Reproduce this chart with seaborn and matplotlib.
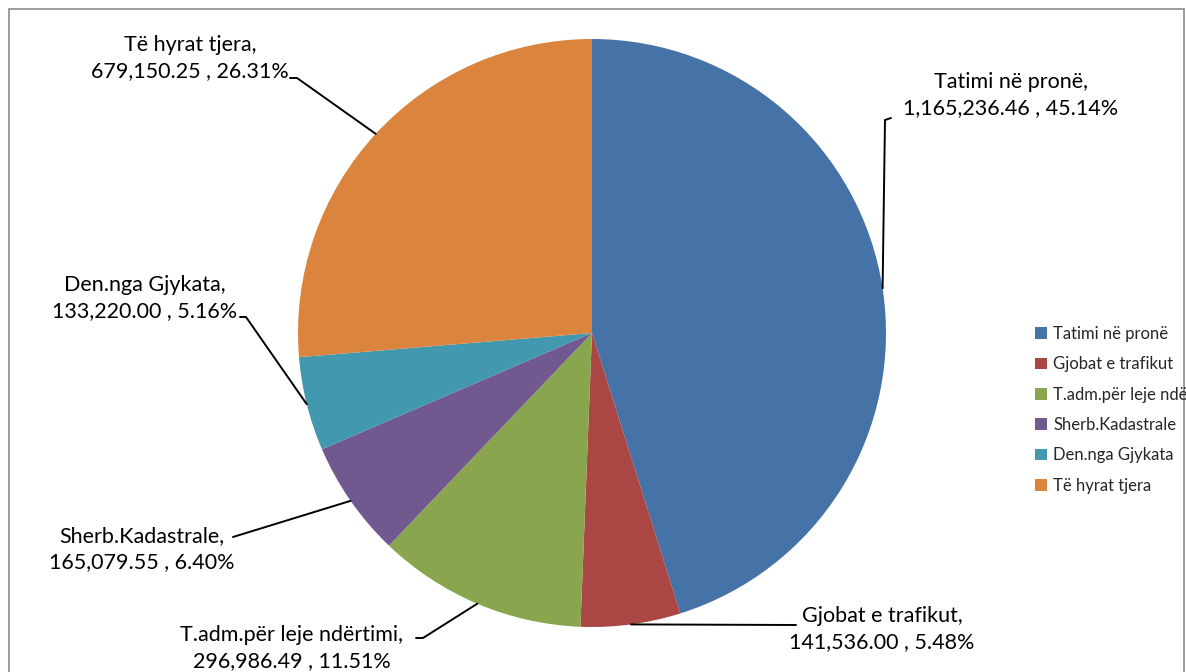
import numpy as np
import seaborn as sns
import matplotlib.pyplot as plt
from matplotlib.lines import Line2D
from matplotlib.patches import Rectangle, Patch

categories = ["Tatimi në pronë", "Gjobat e trafikut", "T.adm.për leje ndërtimi",
              "Sherb.Kadastrale", "Den.nga Gjykata", "Të hyrat tjera"]
legend_names = ["Tatimi në pronë", "Gjobat e trafikut", "T.adm.për leje ndërtimi",
                "Sherb.Kadastrale", "Den.nga Gjykata", "Të hyrat tjera"]
values = [1165236.46, 141536.00, 296986.49, 165079.55, 133220.00, 679150.25]
colors = ["#4572A7", "#AA4643", "#89A54E", "#71588F", "#4198AF", "#DB843D"]

W, H = 1186, 672

# label layout in pixels (from top-left): text centre, and leader line path to text
label_pos = [(1011, 95), (882, 629), (292, 648), (142, 549), (145, 298), (190, 58)]
leader_pts = [
    [(885, 120), (891, 118)],
    [(796, 625)],
    [(423, 638), (416, 638)],
    [(233, 537)],
    [(246, 317), (240, 317)],
    [(297, 78), (290, 78)],
]


def fmt_num(v):
    return f"{v:,.2f}"


def to_fig(p):
    return (p[0] / W, 1 - p[1] / H)


def main():
    sns.set_theme(style="white")
    plt.rcParams["font.family"] = ["Lato", "DejaVu Sans"]

    fig = plt.figure(figsize=(W / 100, H / 100), dpi=100)
    cx, cy, r = 592, 333, 294
    ax = fig.add_axes([(cx - r) / W, (H - cy - r) / H, 2 * r / W, 2 * r / H])

    wedges, _ = ax.pie(values, colors=colors, startangle=90, counterclock=False,
                       radius=1, wedgeprops=dict(linewidth=0))
    ax.set_xlim(-1, 1)
    ax.set_ylim(-1, 1)
    ax.set_axis_off()

    total = sum(values)
    for w, name, v, pos, pts in zip(wedges, categories, values, label_pos, leader_pts):
        mid = np.deg2rad((w.theta1 + w.theta2) / 2)
        ax_pt = ax.transData.transform((np.cos(mid), np.sin(mid)))
        start = (ax_pt[0], H - ax_pt[1])
        path = [start] + pts
        xs = [p[0] / W for p in path]
        ys = [1 - p[1] / H for p in path]
        fig.add_artist(Line2D(xs, ys, color="black", lw=1.4,
                              transform=fig.transFigure))
        pct = v / total * 100
        txt = f"{name},\n{fmt_num(v)} , {pct:.2f}%"
        fx, fy = to_fig(pos)
        fig.text(fx, fy, txt, ha="center", va="center", fontsize=15.5,
                 color="black", linespacing=1.35)

    handles = [Patch(facecolor=c, edgecolor="none") for c in colors]
    fig.legend(handles, legend_names, loc="upper left",
               bbox_to_anchor=(1020 / W, 1 - 311 / H), frameon=False,
               fontsize=12, handlelength=0.7, handleheight=0.7,
               handletextpad=0.4, labelspacing=0.86)

    # outer chart border (cut off at right/bottom)
    fig.add_artist(Rectangle((9 / W, -0.1), (1184 - 9) / W, 1 - 9 / H + 0.1,
                             transform=fig.transFigure, fill=False,
                             edgecolor="#8c8c8c", lw=1.2))

    fig.savefig("out.png", dpi=100)


if __name__ == "__main__":
    main()
